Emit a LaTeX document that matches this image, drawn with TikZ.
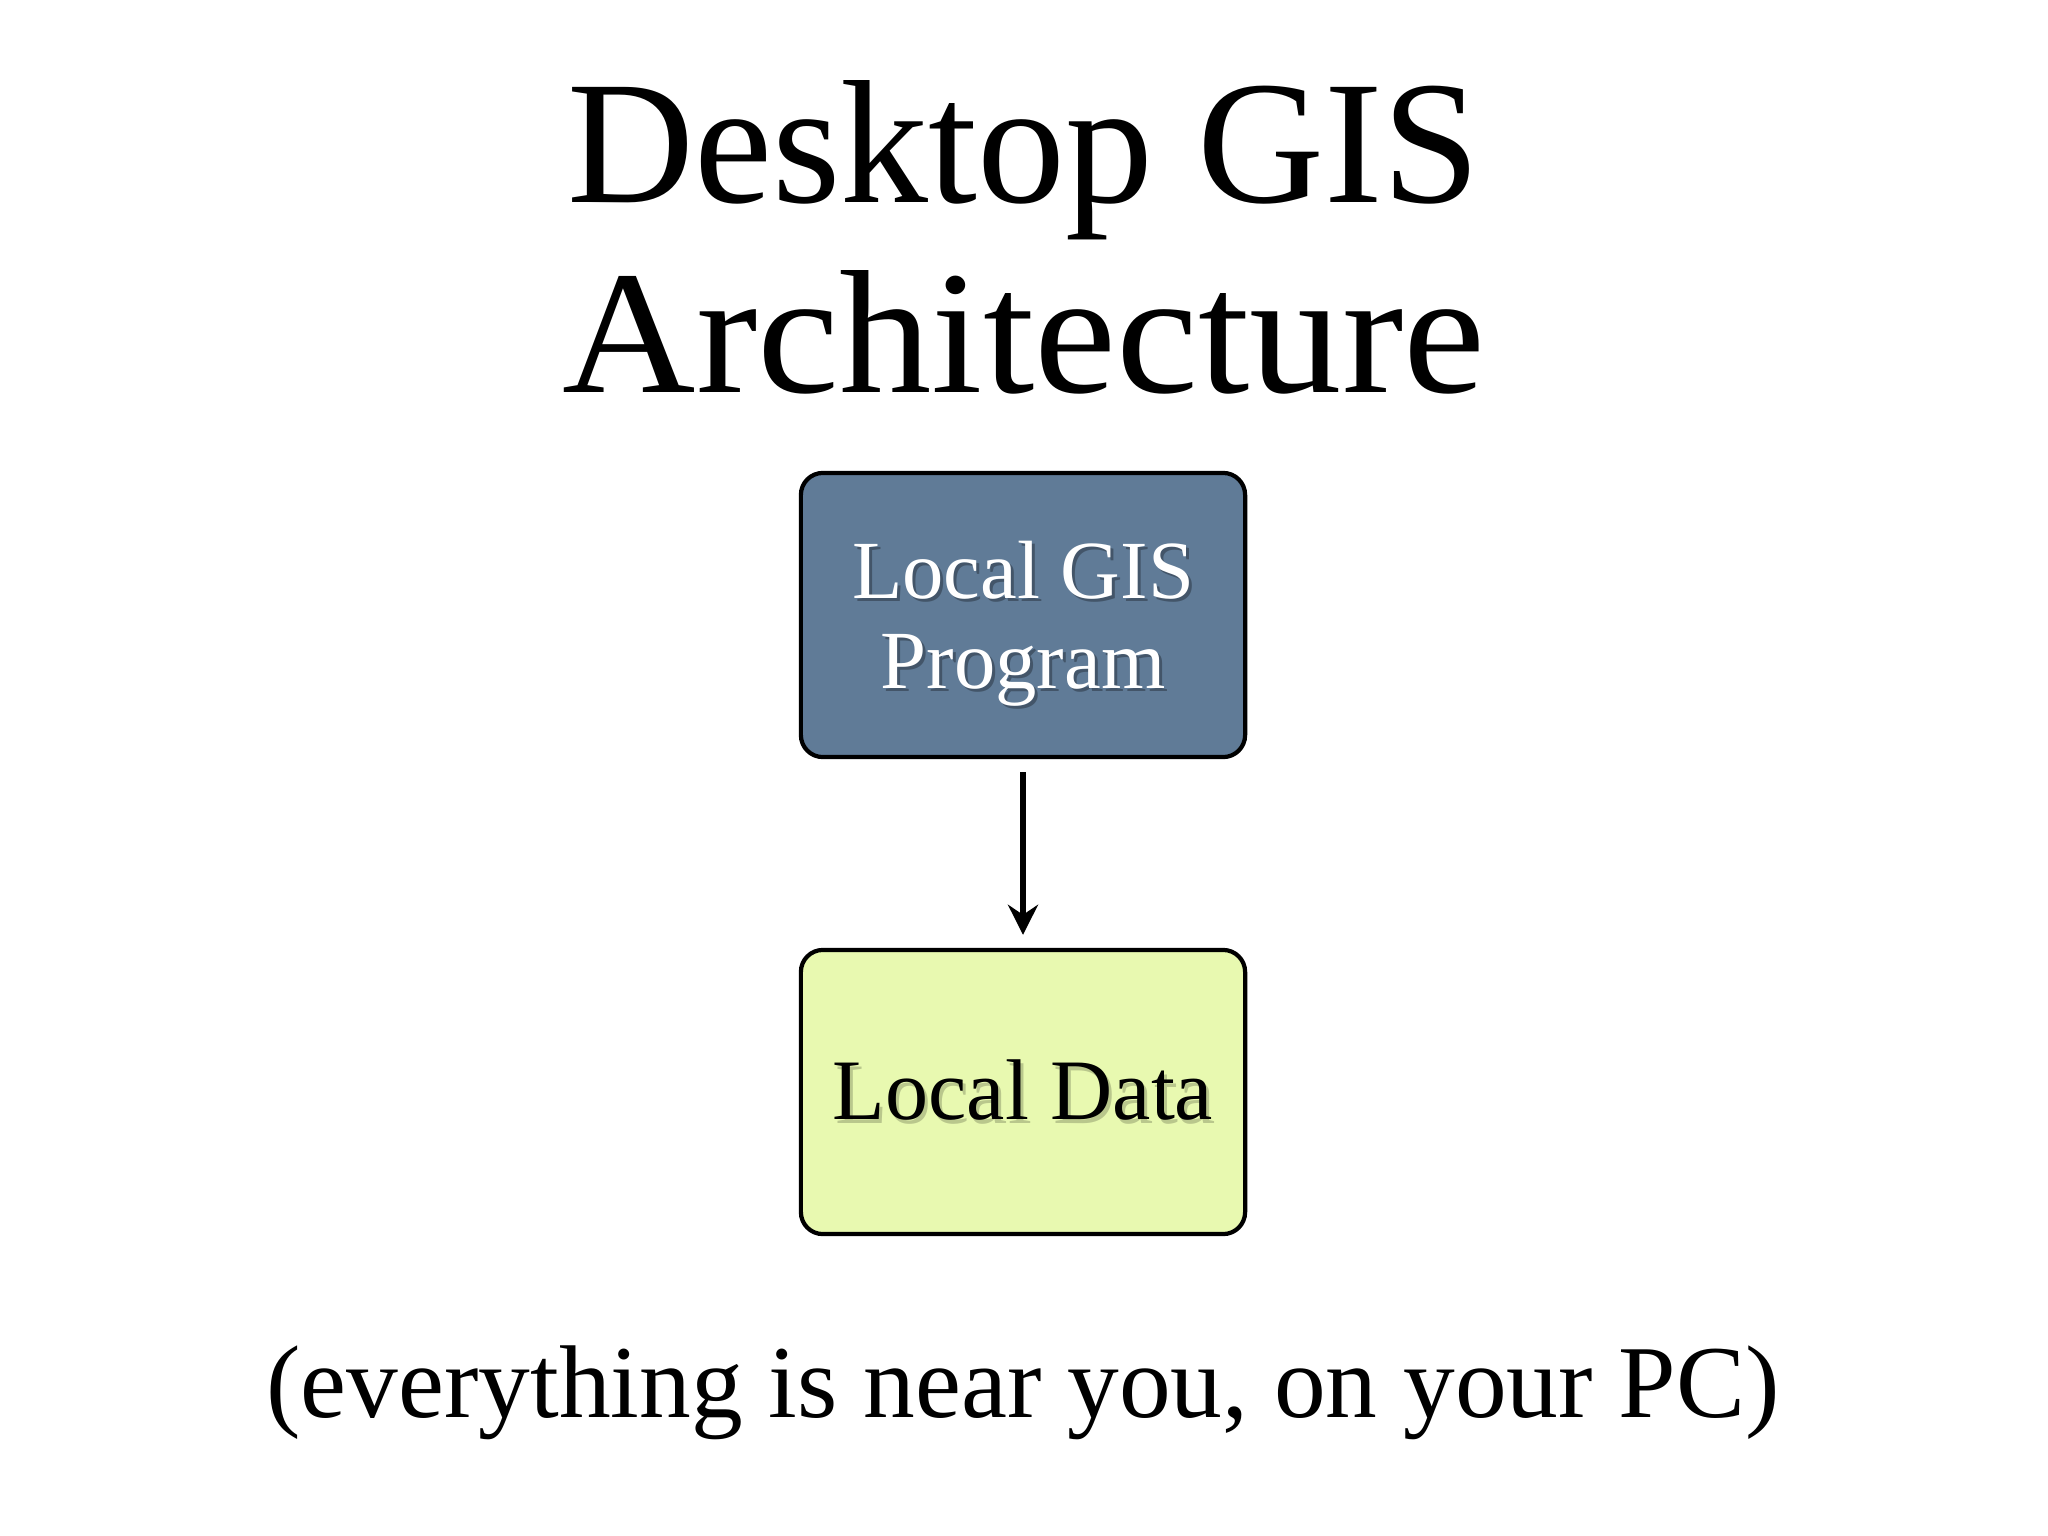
\documentclass[tikz,border=0pt]{standalone}
\usepackage{fontspec}
\setmainfont{Liberation Serif}
\usetikzlibrary{arrows.meta}
\definecolor{progblue}{RGB}{96,123,151}
\definecolor{datagreen}{RGB}{232,249,176}
\tikzset{
  box/.style={draw=black, line width=1.2pt, rounded corners=2.2mm,
    minimum width=4.44cm, minimum height=2.84cm, inner sep=0pt},
  titletxt/.style={anchor=base, inner sep=0pt, font=\fontsize{50}{54}\selectfont},
  boxtxt/.style={anchor=base, inner sep=0pt, font=\fontsize{23.5}{26}\selectfont},
  captxt/.style={anchor=base, inner sep=0pt, font=\fontsize{29.4}{32}\selectfont},
  shade/.style={text opacity=0.3, text=black},
  conn/.style={line width=1.6pt, -{Stealth[length=3mm, width=3mm, inset=1mm]},
    shorten <=1.3mm, shorten >=1.3mm}
}
\begin{document}
\begin{tikzpicture}[x=0.01cm, y=-0.01cm]
\useasboundingbox (0,0) rectangle (2048,1536);
\fill[white] (0,0) rectangle (2048,1536);
% title
\node[titletxt] (t1) at (1024,202) {Desktop GIS};
\node[titletxt, xscale=1.05] (t2) at (1024,392) {Architecture};
% boxes
\node[box, fill=progblue] (prog) at (1023,615) {};
\node[box, fill=datagreen] (data) at (1023,1092) {};
% box texts with soft shadow
\node[boxtxt, shade] (p1s) at (1026,601) {Local GIS};
\node[boxtxt, shade] (p2s) at (1026,691) {Program};
\node[boxtxt, text=white] (p1) at (1023,598) {Local GIS};
\node[boxtxt, text=white] (p2) at (1023,688) {Program};
\node[boxtxt, font=\fontsize{24.5}{26}\selectfont, text=black, text opacity=0.2] (d1s) at (1026,1123) {Local Data};
\node[boxtxt, font=\fontsize{24.5}{26}\selectfont] (d1) at (1023,1119) {Local Data};
% connector
\draw[conn] (prog.south) -- (data.north);
% caption
\node[captxt] (cap) at (1023,1417) {(everything is near you, on your PC)};
\end{tikzpicture}
\end{document}
